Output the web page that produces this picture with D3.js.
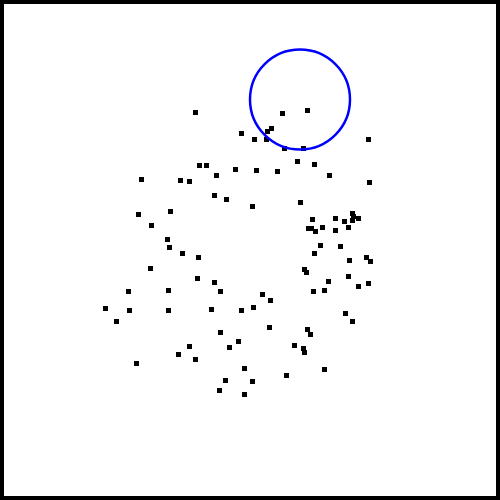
<!DOCTYPE html>
<html>
<head>
<meta charset="utf-8">
<script src="https://cdn.jsdelivr.net/npm/d3@7"></script>
<style>
  html, body { margin: 0; padding: 0; background: #fff; }
  svg { display: block; }
</style>
</head>
<body>
<script>
// Data (units on a 0..10 square)
const xValues = [3.906,4.826,3.986,4.126,4.706,2.826,3.606,3.786,4.326,4.286,
  4.526,5.646,6.146,5.426,5.346,5.086,5.326,7.366,5.686,6.066,
  5.94,6.286,5.126,5.546,6.586,7.386,2.766,3.406,3.026,3.346,
  3.386,3.646,3.966,3.006,3.946,4.286,2.566,3.366,4.406,5.046,
  6.006,7.046,7.066,6.246,6.706,6.886,7.046,7.166,6.166,6.226,
  6.306,6.446,6.706,6.966,6.406,6.806,6.286,6.986,7.326,7.406,
  6.086,6.126,6.966,6.566,7.166,7.366,6.266,6.486,5.246,2.106,
  2.586,3.366,4.226,4.826,2.326,4.406,4.766,3.786,4.586,3.566,
  3.906,2.726,4.506,4.386,5.406,5.066,6.906,7.046,5.386,6.146,
  6.206,5.886,6.066,6.086,4.886,6.486,5.726,5.046,4.886];
const yValues = [7.754,7.334,6.694,6.694,6.614,6.414,6.394,6.374,6.494,6.094,
  6.014,7.734,7.794,7.426,7.374,7.214,7.214,7.214,7.034,7.034,
  6.774,6.714,6.594,6.574,6.494,6.354,5.714,5.774,5.494,5.214,
  5.054,4.934,4.854,4.634,4.434,4.354,4.174,4.194,4.174,5.874,
  5.954,5.734,5.674,5.614,5.634,5.574,5.594,5.634,5.434,5.434,
  5.374,5.454,5.394,5.454,5.094,5.074,4.934,4.794,4.854,4.774,
  4.614,4.554,4.474,4.374,4.274,4.334,4.174,4.194,4.114,3.834,
  3.794,3.794,3.814,3.794,3.574,3.354,3.174,3.074,3.054,2.914,
  2.814,2.734,2.394,2.194,3.994,3.854,3.734,3.574,3.454,3.42,
  3.32,3.094,3.034,2.954,2.634,2.614,2.494,2.374,2.114];
const circleCenter = [6.0, 8.01];
const circleRadius = 1.0;

const W = 500, H = 500;
const x = d3.scaleLinear().domain([0, 10]).range([0, W]);
const y = d3.scaleLinear().domain([0, 10]).range([H, 0]);

const svg = d3.select("body").append("svg").attr("width", W).attr("height", H);
svg.append("rect").attr("x", 0).attr("y", 0).attr("width", W).attr("height", H).attr("fill", "#fff");

const pts = xValues.map((v, i) => ({x: v, y: yValues[i]}));
const s = 5;
svg.append("g").attr("shape-rendering", "crispEdges")
  .selectAll("rect").data(pts).join("rect")
  .attr("x", d => Math.round(x(d.x) - s / 2))
  .attr("y", d => Math.round(y(d.y) - s / 2))
  .attr("width", s).attr("height", s)
  .attr("fill", "#000");

svg.append("circle")
  .attr("cx", x(circleCenter[0]))
  .attr("cy", y(circleCenter[1]))
  .attr("r", x(circleRadius) - x(0))
  .attr("fill", "none")
  .attr("stroke", "#0000ff")
  .attr("stroke-width", 2.5);

svg.append("rect").attr("x", 2).attr("y", 2).attr("width", W - 4).attr("height", H - 4)
  .attr("fill", "none").attr("stroke", "#000").attr("stroke-width", 4);
</script>
</body>
</html>
